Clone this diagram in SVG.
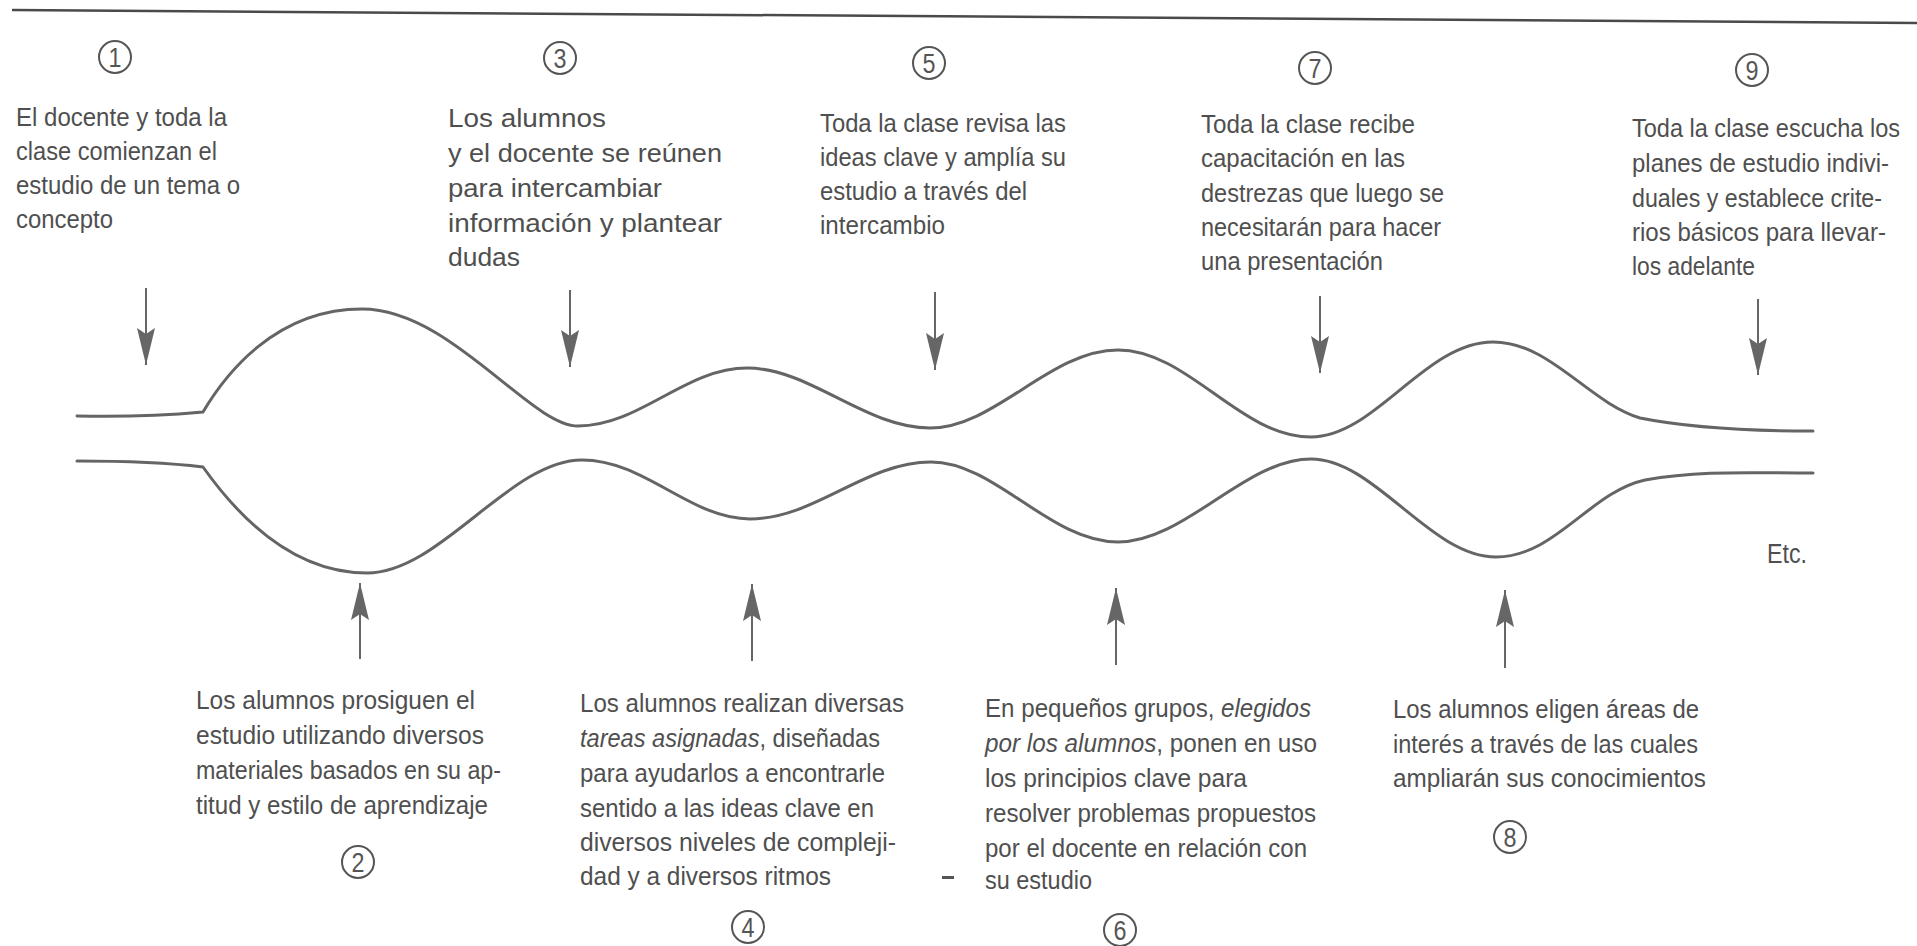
<svg xmlns="http://www.w3.org/2000/svg" width="1917" height="946" viewBox="0 0 1917 946">
<style>
  .t { font-family: "Liberation Sans", Arial, sans-serif; font-size: 25px; fill: #4f4f4f; }
  .i { font-style: italic; }
  .num circle { fill: none; stroke: #555; stroke-width: 2; }
  .num text { font-family: "Liberation Sans", Arial, sans-serif; font-size: 27px; fill: #555; text-anchor: middle; }
  .wave { fill: none; stroke: #656565; stroke-width: 3; stroke-linecap: round; stroke-linejoin: round; }
  .arr { fill: none; stroke: #666; stroke-width: 2; marker-end: url(#ah); }
</style>
<defs>
  <marker id="ah" viewBox="0 -10 38 20" refX="37" refY="0" markerWidth="38" markerHeight="20" markerUnits="userSpaceOnUse" orient="auto">
    <path d="M37,0 L0,-9 L6,0 L0,9 Z" fill="#666"/>
  </marker>
</defs>
<rect width="1917" height="946" fill="#ffffff"/>
<line x1="12" y1="10" x2="1917" y2="23" stroke="#4a4a4a" stroke-width="2.5"/>

<g id="channel">
  <path class="wave" d="M77,416 C120,417 170,415 203,412 C225,375 275,309 362,309 C450,309 530,426 578,426 C640,426 685,368 747,368 C810,368 865,428 930,428 C995,428 1050,350 1118,350 C1188,350 1240,437 1311,437 C1375,437 1425,342 1493,342 C1550,342 1588,402 1640,418 C1690,428 1750,431 1813,431"/>
  <path class="wave" d="M77,461 C120,461 170,463 203,467 C230,505 285,573 367,573 C440,573 510,460 582,460 C645,460 690,519 750,519 C815,519 865,462 931,462 C995,462 1050,542 1118,542 C1185,542 1245,459 1311,459 C1375,459 1430,557 1496,557 C1555,557 1590,492 1645,480 C1700,470 1750,473 1813,473"/>
</g>

<g id="connectors">
  <line class="arr" x1="146" y1="288" x2="146" y2="365"/>
  <line class="arr" x1="570" y1="290" x2="570" y2="367"/>
  <line class="arr" x1="935" y1="292" x2="935" y2="370"/>
  <line class="arr" x1="1320" y1="296" x2="1320" y2="373"/>
  <line class="arr" x1="1758" y1="299" x2="1758" y2="375"/>
  <line class="arr" x1="360" y1="659" x2="360" y2="583"/>
  <line class="arr" x1="752" y1="661" x2="752" y2="584"/>
  <line class="arr" x1="1116" y1="665" x2="1116" y2="588"/>
  <line class="arr" x1="1505" y1="668" x2="1505" y2="590"/>
</g>

<g id="step1">
  <g class="num"><circle cx="115" cy="57" r="16"/><text x="115" y="66.5" textLength="13" lengthAdjust="spacingAndGlyphs">1</text></g>
  <text class="t" x="16" y="126" textLength="211" lengthAdjust="spacingAndGlyphs">El docente y toda la</text>
  <text class="t" x="16" y="160" textLength="201" lengthAdjust="spacingAndGlyphs">clase comienzan el</text>
  <text class="t" x="16" y="194" textLength="224" lengthAdjust="spacingAndGlyphs">estudio de un tema o</text>
  <text class="t" x="16" y="228" textLength="97" lengthAdjust="spacingAndGlyphs">concepto</text>
</g>

<g id="step2">
  <text class="t" x="196" y="709" textLength="279" lengthAdjust="spacingAndGlyphs">Los alumnos prosiguen el</text>
  <text class="t" x="196" y="744" textLength="288" lengthAdjust="spacingAndGlyphs">estudio utilizando diversos</text>
  <text class="t" x="196" y="779" textLength="305" lengthAdjust="spacingAndGlyphs">materiales basados en su ap-</text>
  <text class="t" x="196" y="814" textLength="292" lengthAdjust="spacingAndGlyphs">titud y estilo de aprendizaje</text>
  <g class="num"><circle cx="358" cy="862" r="16"/><text x="358" y="871.5" textLength="13" lengthAdjust="spacingAndGlyphs">2</text></g>
</g>

<g id="step3">
  <g class="num"><circle cx="560" cy="58" r="16"/><text x="560" y="67.5" textLength="13" lengthAdjust="spacingAndGlyphs">3</text></g>
  <text class="t" x="448" y="127" textLength="158" lengthAdjust="spacingAndGlyphs">Los alumnos</text>
  <text class="t" x="448" y="162" textLength="274" lengthAdjust="spacingAndGlyphs">y el docente se reúnen</text>
  <text class="t" x="448" y="197" textLength="214" lengthAdjust="spacingAndGlyphs">para intercambiar</text>
  <text class="t" x="448" y="232" textLength="274" lengthAdjust="spacingAndGlyphs">información y plantear</text>
  <text class="t" x="448" y="266" textLength="72" lengthAdjust="spacingAndGlyphs">dudas</text>
</g>

<g id="step4">
  <text class="t" x="580" y="712" textLength="324" lengthAdjust="spacingAndGlyphs">Los alumnos realizan diversas</text>
  <text class="t" x="580" y="747" textLength="300" lengthAdjust="spacingAndGlyphs"><tspan class="i">tareas asignadas</tspan>, diseñadas</text>
  <text class="t" x="580" y="782" textLength="305" lengthAdjust="spacingAndGlyphs">para ayudarlos a encontrarle</text>
  <text class="t" x="580" y="817" textLength="294" lengthAdjust="spacingAndGlyphs">sentido a las ideas clave en</text>
  <text class="t" x="580" y="851" textLength="316" lengthAdjust="spacingAndGlyphs">diversos niveles de compleji-</text>
  <text class="t" x="580" y="885" textLength="251" lengthAdjust="spacingAndGlyphs">dad y a diversos ritmos</text>
  <g class="num"><circle cx="748" cy="927" r="16"/><text x="748" y="936.5" textLength="13" lengthAdjust="spacingAndGlyphs">4</text></g>
</g>

<g id="step5">
  <g class="num"><circle cx="929" cy="63" r="16"/><text x="929" y="72.5" textLength="13" lengthAdjust="spacingAndGlyphs">5</text></g>
  <text class="t" x="820" y="132" textLength="246" lengthAdjust="spacingAndGlyphs">Toda la clase revisa las</text>
  <text class="t" x="820" y="166" textLength="246" lengthAdjust="spacingAndGlyphs">ideas clave y amplía su</text>
  <text class="t" x="820" y="200" textLength="207" lengthAdjust="spacingAndGlyphs">estudio a través del</text>
  <text class="t" x="820" y="234" textLength="125" lengthAdjust="spacingAndGlyphs">intercambio</text>
</g>

<g id="step6">
  <text class="t" x="985" y="717" textLength="326" lengthAdjust="spacingAndGlyphs">En pequeños grupos, <tspan class="i">elegidos</tspan></text>
  <text class="t" x="985" y="752" textLength="332" lengthAdjust="spacingAndGlyphs"><tspan class="i">por los alumnos</tspan>, ponen en uso</text>
  <text class="t" x="985" y="787" textLength="262" lengthAdjust="spacingAndGlyphs">los principios clave para</text>
  <text class="t" x="985" y="822" textLength="331" lengthAdjust="spacingAndGlyphs">resolver problemas propuestos</text>
  <text class="t" x="985" y="857" textLength="322" lengthAdjust="spacingAndGlyphs">por el docente en relación con</text>
  <text class="t" x="985" y="889" textLength="107" lengthAdjust="spacingAndGlyphs">su estudio</text>
  <g class="num"><circle cx="1120" cy="930" r="16"/><text x="1120" y="939.5" textLength="13" lengthAdjust="spacingAndGlyphs">6</text></g>
</g>

<g id="step7">
  <g class="num"><circle cx="1315" cy="68" r="16"/><text x="1315" y="77.5" textLength="13" lengthAdjust="spacingAndGlyphs">7</text></g>
  <text class="t" x="1201" y="133" textLength="214" lengthAdjust="spacingAndGlyphs">Toda la clase recibe</text>
  <text class="t" x="1201" y="167" textLength="204" lengthAdjust="spacingAndGlyphs">capacitación en las</text>
  <text class="t" x="1201" y="202" textLength="243" lengthAdjust="spacingAndGlyphs">destrezas que luego se</text>
  <text class="t" x="1201" y="236" textLength="240" lengthAdjust="spacingAndGlyphs">necesitarán para hacer</text>
  <text class="t" x="1201" y="270" textLength="182" lengthAdjust="spacingAndGlyphs">una presentación</text>
</g>

<g id="step8">
  <text class="t" x="1393" y="718" textLength="306" lengthAdjust="spacingAndGlyphs">Los alumnos eligen áreas de</text>
  <text class="t" x="1393" y="753" textLength="305" lengthAdjust="spacingAndGlyphs">interés a través de las cuales</text>
  <text class="t" x="1393" y="787" textLength="313" lengthAdjust="spacingAndGlyphs">ampliarán sus conocimientos</text>
  <g class="num"><circle cx="1510" cy="837" r="16"/><text x="1510" y="846.5" textLength="13" lengthAdjust="spacingAndGlyphs">8</text></g>
</g>

<g id="step9">
  <g class="num"><circle cx="1752" cy="70" r="16"/><text x="1752" y="79.5" textLength="13" lengthAdjust="spacingAndGlyphs">9</text></g>
  <text class="t" x="1632" y="137" textLength="268" lengthAdjust="spacingAndGlyphs">Toda la clase escucha los</text>
  <text class="t" x="1632" y="172" textLength="257" lengthAdjust="spacingAndGlyphs">planes de estudio indivi-</text>
  <text class="t" x="1632" y="207" textLength="250" lengthAdjust="spacingAndGlyphs">duales y establece crite-</text>
  <text class="t" x="1632" y="241" textLength="254" lengthAdjust="spacingAndGlyphs">rios básicos para llevar-</text>
  <text class="t" x="1632" y="275" textLength="123" lengthAdjust="spacingAndGlyphs">los adelante</text>
</g>

<g id="etc">
  <text class="t" x="1767" y="563" textLength="40" lengthAdjust="spacingAndGlyphs" style="font-size:27px">Etc.</text>
</g>

<rect x="942" y="876" width="12" height="3" fill="#555"/>
</svg>
